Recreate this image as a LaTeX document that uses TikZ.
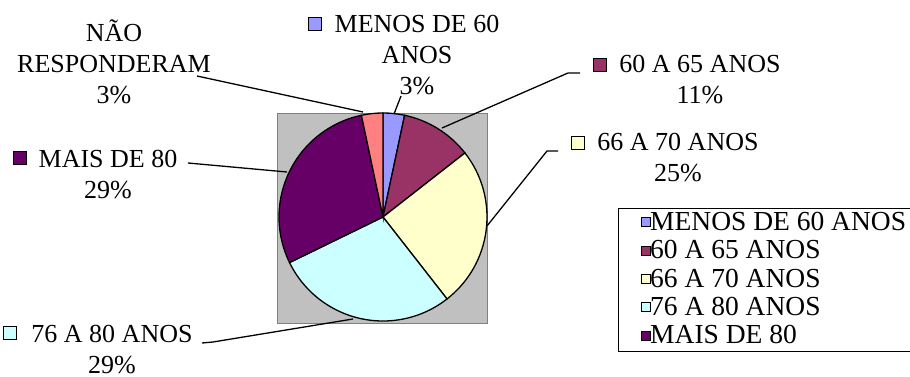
\documentclass[tikz,border=0pt]{standalone}
\usepackage{fontspec}
\setmainfont{Liberation Serif}
\usetikzlibrary{positioning}
\definecolor{menos}{HTML}{9999FF}
\definecolor{sessenta}{HTML}{993366}
\definecolor{setenta}{HTML}{FFFFCC}
\definecolor{oitenta}{HTML}{CCFFFF}
\definecolor{mais}{HTML}{660066}
\definecolor{nao}{HTML}{FF8080}
\definecolor{plotgray}{HTML}{C0C0C0}

\begin{document}
\begin{tikzpicture}[x=1pt,y=1pt,
    lbl/.style={font=\fontsize{26}{31}\selectfont,align=center,inner sep=0pt,anchor=base},
    leg/.style={font=\fontsize{27.5}{28}\selectfont,inner sep=0pt,anchor=base west},
    chip/.style={draw=black,line width=1.2pt,minimum size=13pt,inner sep=0pt},
    legchip/.style={draw=black,line width=1pt,minimum size=9pt,inner sep=0pt},
    lead/.style={line width=1.3pt}]
          \useasboundingbox (0,0) rectangle (910,-377);
          % plot area
          \filldraw[fill=plotgray,draw=black!50] (277,-113) rectangle (487,-323);
          \coordinate (c) at (383,-217);
          \filldraw[fill=menos,line width=1.3pt]    (c) -- ++(90:104) arc[start angle=90,end angle=78,radius=104] -- cycle;
          \filldraw[fill=sessenta,line width=1.3pt] (c) -- ++(78:104) arc[start angle=78,end angle=38,radius=104] -- cycle;
          \filldraw[fill=setenta,line width=1.3pt]  (c) -- ++(38:104) arc[start angle=38,end angle=-52,radius=104] -- cycle;
          \filldraw[fill=oitenta,line width=1.3pt]  (c) -- ++(-52:104) arc[start angle=-52,end angle=-154,radius=104] -- cycle;
          \filldraw[fill=mais,line width=1.3pt]     (c) -- ++(-154:104) arc[start angle=-154,end angle=-258,radius=104] -- cycle;
          \filldraw[fill=nao,line width=1.3pt]      (c) -- ++(102:104) arc[start angle=102,end angle=90,radius=104] -- cycle;
          % data labels (anchor = baseline of last line)
          \node[lbl] (nao-lbl) at (114,-104) {NÃO\\RESPONDERAM\\3\%};
          \node[lbl] (menos-lbl) at (417,-95) {MENOS DE 60\\ANOS\\3\%};
          \node[chip,fill=menos] (menos-chip) at (315,-24) {};
          \node[lbl] (sessenta-lbl) at (700,-104) {60 A 65 ANOS\\11\%};
          \node[chip,fill=sessenta] (sessenta-chip) at (600,-65) {};
          \node[lbl] (setenta-lbl) at (678,-181) {66 A 70 ANOS\\25\%};
          \node[chip,fill=setenta] (setenta-chip) at (578,-143) {};
          \node[lbl] (oitenta-lbl) at (112,-373) {76 A 80 ANOS\\29\%};
          \node[chip,fill=oitenta] (oitenta-chip) at (10,-333) {};
          \node[lbl] (mais-lbl) at (108,-198) {MAIS DE 80\\29\%};
          \node[chip,fill=mais] (mais-chip) at (20,-158) {};
          % leader lines
          \coordinate (nao-a) at (197,-76);   \coordinate (nao-p) at (363,-112);
          \coordinate (menos-a) at (401,-96); \coordinate (menos-p) at (394,-114);
          \coordinate (sessenta-a) at (580,-73); \coordinate (sessenta-b) at (568,-73); \coordinate (sessenta-p) at (442,-128);
          \coordinate (setenta-a) at (558,-151); \coordinate (setenta-b) at (547,-151); \coordinate (setenta-p) at (487,-226);
          \coordinate (oitenta-a) at (202,-343); \coordinate (oitenta-b) at (213,-342); \coordinate (oitenta-p) at (353,-319);
          \coordinate (mais-a) at (188,-163); \coordinate (mais-p) at (287,-172);
          \draw[lead] (nao-a) -- (nao-p);
          \draw[lead] (menos-a) -- (menos-p);
          \draw[lead] (sessenta-a) -- (sessenta-b) -- (sessenta-p);
          \draw[lead] (setenta-a) -- (setenta-b) -- (setenta-p);
          \draw[lead] (oitenta-a) -- (oitenta-b) -- (oitenta-p);
          \draw[lead] (mais-a) -- (mais-p);
          % legend
          \draw[line width=1pt,fill=white] (618,-208) rectangle (914,-351);
          \node[legchip,fill=menos]    (leg1-chip) at (646,-222) {};
          \node[leg] (leg1) at (650,-230) {MENOS DE 60 ANOS};
          \node[legchip,fill=sessenta] (leg2-chip) at (646,-250.5) {};
          \node[leg] (leg2) at (650,-258.5) {60 A 65 ANOS};
          \node[legchip,fill=setenta]  (leg3-chip) at (646,-279) {};
          \node[leg] (leg3) at (650,-287) {66 A 70 ANOS};
          \node[legchip,fill=oitenta]  (leg4-chip) at (646,-307) {};
          \node[leg] (leg4) at (650,-315) {76 A 80 ANOS};
          \node[legchip,fill=mais]     (leg5-chip) at (646,-335.5) {};
          \node[leg] (leg5) at (650,-343.5) {MAIS DE 80};
        \end{tikzpicture}
\end{document}
